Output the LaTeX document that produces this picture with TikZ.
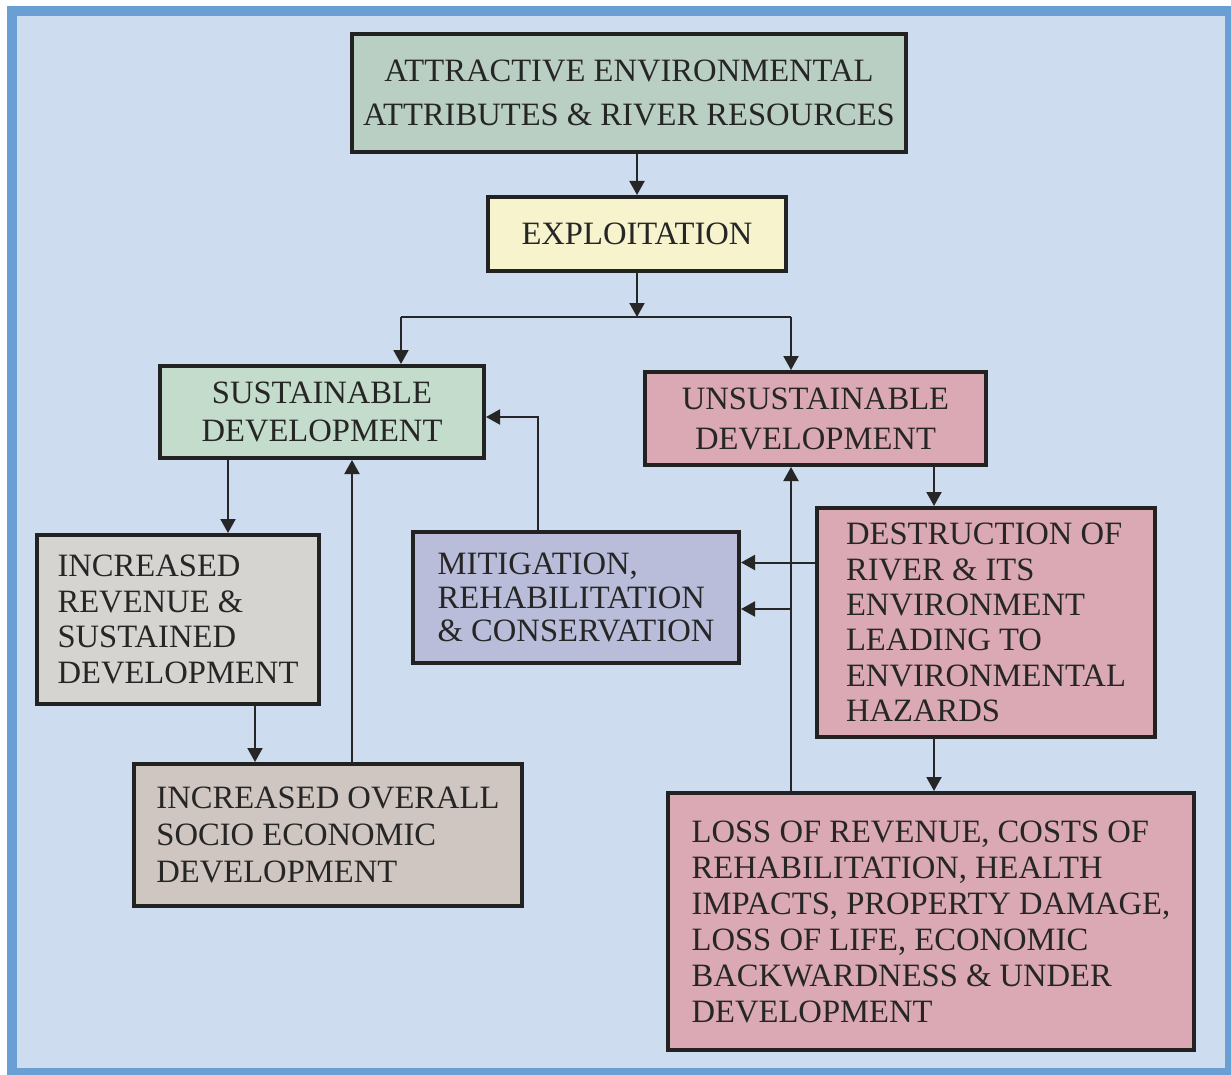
\documentclass[tikz,border=0pt]{standalone}
\usepackage{fontspec}
\setmainfont{Liberation Serif}
\usepackage{xcolor}
\usepackage{tikz}
\usetikzlibrary{arrows.meta}

\definecolor{bgblue}{HTML}{CDDCEE}
\definecolor{framebl}{HTML}{6A9FD4}
\definecolor{sage}{HTML}{BACFC3}
\definecolor{cream}{HTML}{F6F3CD}
\definecolor{mint}{HTML}{C4DCCB}
\definecolor{rose}{HTML}{DAA9B3}
\definecolor{stone}{HTML}{D6D4D0}
\definecolor{taupe}{HTML}{CFC5C1}
\definecolor{lilac}{HTML}{B9BDD9}
\definecolor{ink}{HTML}{262626}

\begin{document}
\begin{tikzpicture}[x=0.5pt,y=-0.5pt,>={Triangle[length=7pt,width=7.5pt]},
  box/.style={draw=ink!90!black,line width=2pt,align=left,inner sep=0pt,text=ink,
    font=\fontsize{16.3}{17.7}\selectfont},
  arr/.style={->,line width=1pt,draw=ink},
  link/.style={line width=1pt,draw=ink}]
  \useasboundingbox (0,0) rectangle (1231,1075);
  \fill[white] (0,0) rectangle (1231,1075);
  \draw[draw=framebl,line width=5pt,fill=bgblue] (12,11) rectangle (1230,1073);

  \node[box,fill=sage,align=center,minimum width=277pt,minimum height=59pt,
    font=\fontsize{16.3}{22}\selectfont] (attract) at (629,93)
    {ATTRACTIVE ENVIRONMENTAL\\ATTRIBUTES \& RIVER RESOURCES};
  \node[box,fill=cream,align=center,minimum width=149pt,minimum height=37pt] (exploit)
    at (637,234) {EXPLOITATION};
  \node[box,fill=mint,align=center,minimum width=162pt,minimum height=46pt,
    font=\fontsize{16.3}{19}\selectfont] (sustain) at (322,412)
    {SUSTAINABLE\\DEVELOPMENT};
  \node[box,fill=rose,align=center,minimum width=170.5pt,minimum height=46.5pt,
    font=\fontsize{16.3}{20}\selectfont] (unsustain) at (815.5,418.5)
    {UNSUSTAINABLE\\DEVELOPMENT};
  \node[box,fill=stone,minimum width=141pt,minimum height=84.5pt] (revenue)
    at (178,619.5) {INCREASED\\REVENUE \&\\SUSTAINED\\DEVELOPMENT};
  \node[box,fill=lilac,minimum width=163pt,minimum height=65.5pt,
    font=\fontsize{16.3}{16.8}\selectfont] (mitig) at (576,597.5)
    {MITIGATION,\\REHABILITATION\\\& CONSERVATION};
  \node[box,fill=rose,minimum width=169pt,minimum height=114.5pt] (destruct)
    at (986,622.5) {DESTRUCTION OF\\RIVER \& ITS\\ENVIRONMENT\\LEADING TO\\ENVIRONMENTAL\\HAZARDS};
  \node[box,fill=taupe,minimum width=194pt,minimum height=71pt,
    font=\fontsize{16.3}{18.7}\selectfont] (overall) at (328,835)
    {INCREASED OVERALL\\SOCIO ECONOMIC\\DEVELOPMENT};
  \node[box,fill=rose,minimum width=263pt,minimum height=128.5pt,
    font=\fontsize{16.3}{18}\selectfont] (loss) at (931,921.5)
    {LOSS OF REVENUE, COSTS OF\\REHABILITATION, HEALTH\\IMPACTS, PROPERTY DAMAGE,\\LOSS OF LIFE, ECONOMIC\\BACKWARDNESS \& UNDER\\DEVELOPMENT};

  % split below exploitation
  \coordinate (fork) at (637,317);
  \coordinate (forkL) at (401,317);
  \coordinate (forkR) at (791,317);
  \coordinate (tap) at (791,609);

  \draw[arr] (attract.south -| exploit.north) -- (exploit.north);
  \draw[arr] (exploit.south) -- (fork);
  \draw[link] (forkL) -- (forkR);
  \draw[arr] (forkL) -- (forkL |- sustain.north);
  \draw[arr] (forkR) -- (forkR |- unsustain.north);

  \draw[arr] ([xshift=35pt]sustain.south west) -- ([xshift=35pt]sustain.south west |- revenue.north);
  \draw[arr] ([xshift=110pt]revenue.south west) -- ([xshift=110pt]revenue.south west |- overall.north);
  \draw[arr] ([xshift=110pt]overall.north west) -- ([xshift=110pt]overall.north west |- sustain.south);
  \draw[arr] ([xshift=63.5pt]mitig.north west) |- ([yshift=-2.5pt]sustain.east);

  \draw[arr] ([xshift=-26pt]destruct.north |- unsustain.south) -- ([xshift=-26pt]destruct.north);
  \draw[arr] ([xshift=-26pt]destruct.south) -- ([xshift=-26pt]destruct.south |- loss.north);
  \draw[arr] ([yshift=30pt]destruct.west) -- ([yshift=30pt]destruct.west -| mitig.east);
  \draw[arr] ([xshift=62.5pt]loss.north west) -- ([xshift=62.5pt]loss.north west |- unsustain.south);
  \draw[arr] (tap) -- (tap -| mitig.east);
\end{tikzpicture}
\end{document}
